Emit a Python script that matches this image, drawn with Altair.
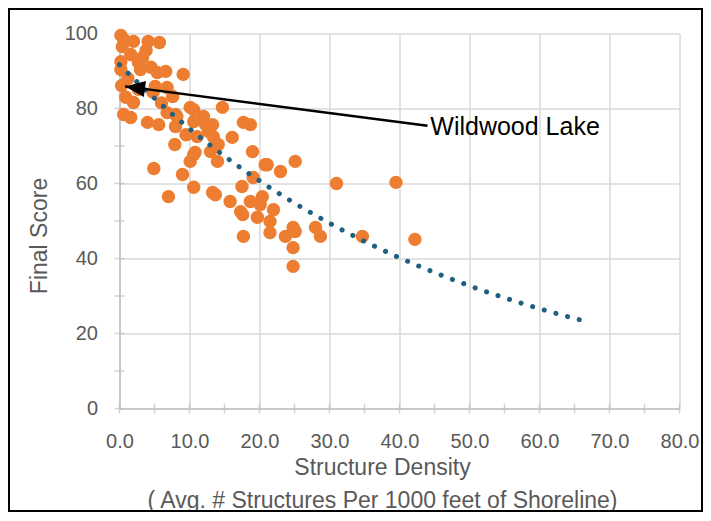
import altair as alt
import pandas as pd

# ---- data ----
density = [0.2, 0.6, 0.4, 2.0, 4.1, 5.7, 1.6, 3.3, 0.2, 2.7, 0.2, 3.0, 5.4, 6.6, 9.1,
           0.3, 2.7, 5.1, 6.8, 7.6, 2.0, 0.6, 1.6, 4.0, 5.6, 6.8, 8.2, 10.1, 10.6, 12.3,
           12.7, 7.9, 4.9, 9.0, 10.6, 7.0, 13.3, 13.7, 8.0, 10.6, 14.7, 12.0, 13.3, 11.1,
           13.4, 14.1, 13.0, 10.6, 10.1, 14.0, 16.1, 17.7, 18.7, 19.0, 20.8, 19.1, 17.5,
           15.8, 18.7, 20.4, 20.1, 4.8, 8.0, 17.3, 17.6, 22.0, 19.7, 21.5, 21.5, 17.7,
           23.7, 24.8, 25.1, 24.8, 24.8, 28.0, 28.7, 31.0, 21.1, 23.0, 25.1, 34.7, 39.5,
           42.2, 10.8, 1.2, 3.8, 0.9, 6.0, 4.5, 9.5]
score = [99.5, 98.4, 96.5, 97.9, 97.9, 97.6, 94.4, 93.6, 92.5, 92.3, 90.4, 90.4, 89.6, 89.9, 89.1,
         86.1, 85.1, 85.9, 85.6, 83.2, 81.6, 78.4, 77.6, 76.3, 75.7, 78.9, 77.9, 80.3, 76.5, 75.7,
         73.9, 70.4, 64.0, 62.4, 59.0, 56.5, 57.6, 57.0, 75.2, 79.7, 80.3, 77.9, 75.7, 72.5,
         72.5, 70.4, 68.5, 67.7, 65.9, 65.9, 72.3, 76.3, 75.7, 68.5, 65.0, 61.6, 59.2,
         55.2, 55.2, 56.5, 54.4, 84.3, 78.4, 52.5, 51.7, 53.0, 51.0, 49.9, 46.9, 45.9,
         45.9, 48.3, 47.2, 42.9, 37.9, 48.3, 45.9, 60.0, 65.0, 63.2, 65.9, 45.9, 60.3,
         45.1, 68.3, 88.0, 95.5, 83.0, 81.5, 91.0, 73.0]

x_label_values = [0, 10, 20, 30, 40, 50, 60, 70, 80]
y_label_values = [0, 20, 40, 60, 80, 100]
x_tick_values = [0, 5, 10, 15, 20, 25, 30, 35, 40, 45, 50, 55, 60, 65, 70, 75, 80]
y_tick_values = [0, 10, 20, 30, 40, 50, 60, 70, 80, 90, 100]

trend_extent = [0, 66.5]

annot_text = ["Wildwood Lake"]
annot_x = [44.4]
annot_y = [75.1]
arrow_x = [44.0, 0.8]
arrow_y = [75.4, 85.9]

FONT = "Liberation Sans"
ORANGE = "#ED7D31"
TEAL = "#1F5F80"
GRID = "#d9d9d9"
AXIS = "#bfbfbf"
TXT = "#595959"

df = pd.DataFrame({"x": density, "y": score})
xscale = alt.Scale(domain=[0, 80], nice=False, zero=False)
yscale = alt.Scale(domain=[0, 100], nice=False, zero=False)

x_axis = alt.Axis(
    values=x_label_values, format=".1f", grid=True, gridColor=GRID, gridWidth=1.5,
    ticks=False, domainColor=AXIS, domainWidth=1.5,
    labelFont=FONT, labelFontSize=20, labelColor=TXT, labelPadding=23, labelFlush=False,
    title=["Structure Density", "( Avg. # Structures Per 1000 feet of Shoreline)"],
    titleFont=FONT, titleFontSize=23, titleColor=TXT, titleFontWeight="normal",
    titleX=262.5, titleY=66, titleAlign="center", titleBaseline="alphabetic",
    titleLineHeight=33,
)
y_axis = alt.Axis(
    values=y_label_values, grid=True, gridColor=GRID, gridWidth=1.5,
    ticks=False, domainColor=AXIS, domainWidth=1.5,
    labelFont=FONT, labelFontSize=20, labelColor=TXT, labelPadding=22,
    title="Final Score", titleFont=FONT, titleFontSize=23, titleColor=TXT,
    titleFontWeight="normal", titleAngle=270, titleX=-80.5, titleY=202,
    titleAlign="center", titleBaseline="middle",
)


def X(field):
    return alt.X(field, scale=xscale, axis=x_axis)


def Y(field):
    return alt.Y(field, scale=yscale, axis=y_axis)


points = alt.Chart(df).mark_circle(size=180, color=ORANGE, opacity=1).encode(
    x=X("x:Q"), y=Y("y:Q"),
)

border = alt.Chart(pd.DataFrame({"a": [0]})).mark_rect(
    fillOpacity=0, stroke="black", strokeWidth=2
).encode(
    x=alt.value(-110.5), x2=alt.value(582.5), y=alt.value(-24.5), y2=alt.value(477.5)
)

xt = alt.Chart(pd.DataFrame({"t": x_tick_values, "z": [0] * len(x_tick_values)})).mark_tick(
    orient="vertical", size=10, thickness=1.5, color=AXIS
).encode(x=X("t:Q"), y=Y("z:Q"))

yt = alt.Chart(pd.DataFrame({"t": y_tick_values, "z": [0] * len(y_tick_values)})).mark_tick(
    orient="horizontal", size=10, thickness=1.5, color=AXIS
).encode(y=Y("t:Q"), x=X("z:Q"))

trend = alt.Chart(df).transform_regression(
    "x", "y", method="exp", extent=trend_extent
).mark_line(color=TEAL, strokeWidth=5, strokeDash=[0.1, 12], strokeCap="round").encode(
    x=X("x:Q"), y=Y("y:Q"),
)

arrow_df = pd.DataFrame({"x": arrow_x, "y": arrow_y})
arrow_line = alt.Chart(arrow_df).mark_line(color="black", strokeWidth=2.5).encode(
    x=X("x:Q"), y=Y("y:Q"),
)
arrow_head = alt.Chart(arrow_df.iloc[[1]]).mark_point(
    shape="M0,0 L2,-0.8 L2,0.8 Z", size=400, filled=True, color="black",
    opacity=1, angle=7.5, strokeWidth=0
).encode(
    x=X("x:Q"), y=Y("y:Q"),
)

label = alt.Chart(pd.DataFrame({"x": annot_x, "y": annot_y, "t": annot_text})).mark_text(
    align="left", baseline="middle", font=FONT, fontSize=25, color="black"
).encode(
    x=X("x:Q"), y=Y("y:Q"), text="t:N",
)

chart = alt.layer(xt, yt, points, trend, arrow_line, arrow_head, label, border).properties(
    width=560, height=375,
    autosize=alt.AutoSizeParams(type="none"),
    padding={"left": 111.5, "top": 25.5, "right": 23.5, "bottom": 103.5},
    background="white",
).configure_view(stroke=None)

chart.save("out.html", embed_options={"renderer": "svg", "actions": False})
